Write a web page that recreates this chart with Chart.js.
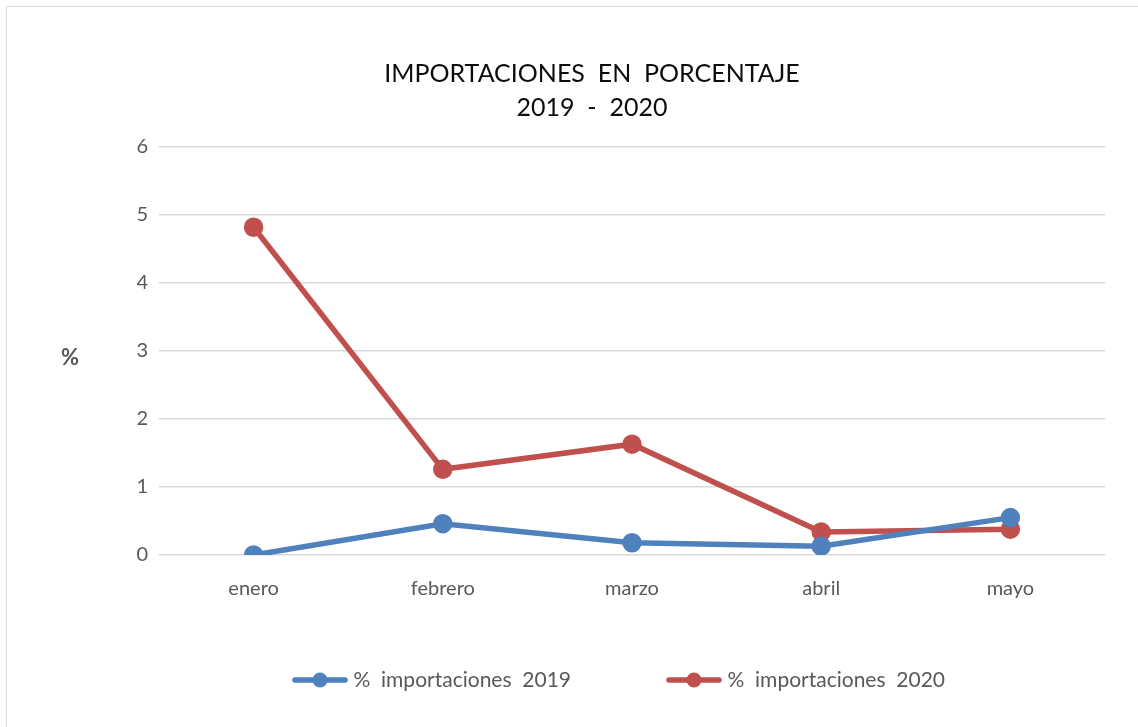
<!DOCTYPE html>
<html>
<head>
<meta charset="utf-8">
<script src="https://cdn.jsdelivr.net/npm/chart.js@4/dist/chart.umd.min.js"></script>
<style>
  html, body { margin: 0; padding: 0; background: #fff; }
  #wrap { width: 1138px; height: 727px; position: relative; }
</style>
</head>
<body>
<div id="wrap"><canvas id="grafico"></canvas></div>
<script>
var meses = ['enero', 'febrero', 'marzo', 'abril', 'mayo'];
var imp2019 = [0.00, 0.46, 0.18, 0.13, 0.55];
var imp2020 = [4.82, 1.26, 1.63, 0.34, 0.38];
var nombres = ['%  importaciones  2019', '%  importaciones  2020'];
var titulo = ['IMPORTACIONES  EN  PORCENTAJE', '2019  -  2020'];

var FUENTE = "Lato, 'Open Sans', sans-serif";
var AZUL = '#4F81BD';
var ROJO = '#C0504D';

// legend marker: a short thick line with a dot in the middle
function marcador(color) {
    var c = document.createElement('canvas');
    c.width = 56;
    c.height = 18;
    var ctx = c.getContext('2d');
    ctx.strokeStyle = color;
    ctx.lineWidth = 5.5;
    ctx.lineCap = 'round';
    ctx.beginPath();
    ctx.moveTo(3, 9);
    ctx.lineTo(53, 9);
    ctx.stroke();
    ctx.fillStyle = color;
    ctx.beginPath();
    ctx.arc(28, 9, 7.5, 0, Math.PI * 2);
    ctx.fill();
    return c;
}

// frame, title and the "%" label
var extras = {
    id: 'extras',
    afterDraw: function (chart) {
        var ctx = chart.ctx;
        ctx.save();
        ctx.strokeStyle = '#d9d9d9';
        ctx.lineWidth = 1;
        ctx.beginPath();
        ctx.moveTo(6.5, 727);
        ctx.lineTo(6.5, 6.5);
        ctx.lineTo(1138, 6.5);
        ctx.stroke();

        ctx.textAlign = 'center';
        ctx.textBaseline = 'middle';
        ctx.fillStyle = '#0d0d0d';
        ctx.font = '25px ' + FUENTE;
        ctx.fillText(titulo[0], 592, 74);
        ctx.fillText(titulo[1], 592, 108);

        ctx.fillStyle = '#595959';
        ctx.font = 'bold 22px ' + FUENTE;
        ctx.fillText('%', 70, 358);
        ctx.restore();
    }
};

var chart = new Chart(document.getElementById('grafico'), {
    type: 'line',
    data: {
        labels: meses,
        datasets: [
            {
                label: nombres[0], data: imp2019,
                borderColor: AZUL, backgroundColor: AZUL,
                borderWidth: 5.5, pointRadius: 7, pointHoverRadius: 7,
                pointStyle: 'circle', tension: 0
            },
            {
                label: nombres[1], data: imp2020,
                borderColor: ROJO, backgroundColor: ROJO,
                borderWidth: 5.5, pointRadius: 7, pointHoverRadius: 7,
                pointStyle: 'circle', tension: 0
            }
        ]
    },
    options: {
        responsive: true,
        maintainAspectRatio: false,
        animation: false,
        layout: { padding: { left: 137, right: 33, top: 147, bottom: 26.5 } },
        plugins: {
            title: { display: false },
            legend: {
                position: 'bottom',
                // empty legend title with negative padding just pulls the row up
                title: { display: true, text: ' ', font: { size: 10, lineHeight: 1 }, padding: { top: -45.5, bottom: 0 } },
                labels: {
                    usePointStyle: true,
                    pointStyleWidth: 46,
                    color: '#595959',
                    font: { family: FUENTE, size: 21 },
                    padding: 100,
                    generateLabels: function (ch) {
                        return ch.data.datasets.map(function (ds, i) {
                            return {
                                text: ds.label,
                                fillStyle: ds.borderColor,
                                strokeStyle: ds.borderColor,
                                lineWidth: 0,
                                pointStyle: marcador(ds.borderColor),
                                fontColor: '#595959',
                                hidden: false,
                                datasetIndex: i
                            };
                        });
                    }
                }
            },
            tooltip: { enabled: false }
        },
        scales: {
            x: {
                offset: true,
                grid: { display: false },
                border: { display: false },
                ticks: { color: '#595959', font: { family: FUENTE, size: 20 }, padding: 14 },
                afterFit: function (s) { s.height = 50; }
            },
            y: {
                min: 0, max: 6,
                ticks: { stepSize: 1, color: '#595959', font: { family: FUENTE, size: 20 }, padding: 11 },
                grid: { color: '#d9d9d9', lineWidth: 1.5, drawTicks: false },
                border: { display: false },
                afterFit: function (s) { s.width = 22; }
            }
        }
    },
    plugins: [extras]
});
</script>
</body>
</html>
